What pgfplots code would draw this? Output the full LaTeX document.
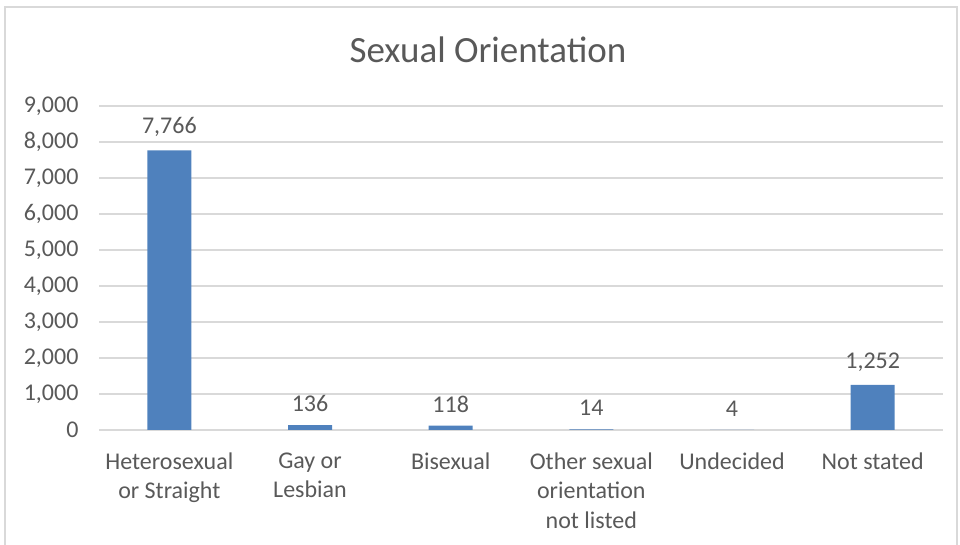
\documentclass[border=0pt]{standalone}
\usepackage{pgfplots}
\pgfplotsset{compat=1.18}
\usepackage{fontspec}
\setmainfont{Carlito}
\definecolor{barblue}{RGB}{79,129,189}
\definecolor{txt}{RGB}{89,89,89}
\definecolor{gridc}{RGB}{217,217,217}
\begin{document}
\begin{tikzpicture}
\useasboundingbox (0pt,0pt) rectangle (960pt,545pt);
\draw[gridc, line width=1.2pt] (5pt,-20pt) rectangle (957pt,538pt);
\node[txt, font=\fontsize{37}{42}\selectfont] at (488pt,495pt) {Sexual Orientation};
\begin{axis}[
  at={(99pt,115pt)}, anchor=south west,
  scale only axis, width=844pt, height=324pt,
  xmin=-0.5, xmax=5.5, ymin=0, ymax=9000,
  axis line style={draw=none},
  major tick length=0pt,
  ymajorgrids, grid style={gridc, line width=1.2pt},
  ytick={0,1000,...,9000},
  xtick={0,1,2,3,4,5},
  xticklabels={{Heterosexual\\or Straight},{Gay or\\Lesbian},{Bisexual},{Other sexual\\orientation\\not listed},{Undecided},{Not stated}},
  xticklabel style={align=center, font=\fontsize{24}{29.5}\selectfont, text=txt, yshift=-19pt},
  yticklabel style={font=\fontsize{24}{28}\selectfont, text=txt, xshift=-17pt},
  /pgf/number format/.cd, 1000 sep={,}, assume math mode=true,
  ]
\addplot[ybar, bar width=44pt, fill=barblue, draw=none,
  nodes near coords,
  every node near coord/.append style={font=\fontsize{24}{28}\selectfont, text=txt, yshift=10pt, /pgf/number format/1000 sep={,}, /pgf/number format/assume math mode=true}]
  coordinates {(0,7766) (1,136) (2,118) (3,14) (4,4) (5,1252)};
\end{axis}
\end{tikzpicture}
\end{document}
